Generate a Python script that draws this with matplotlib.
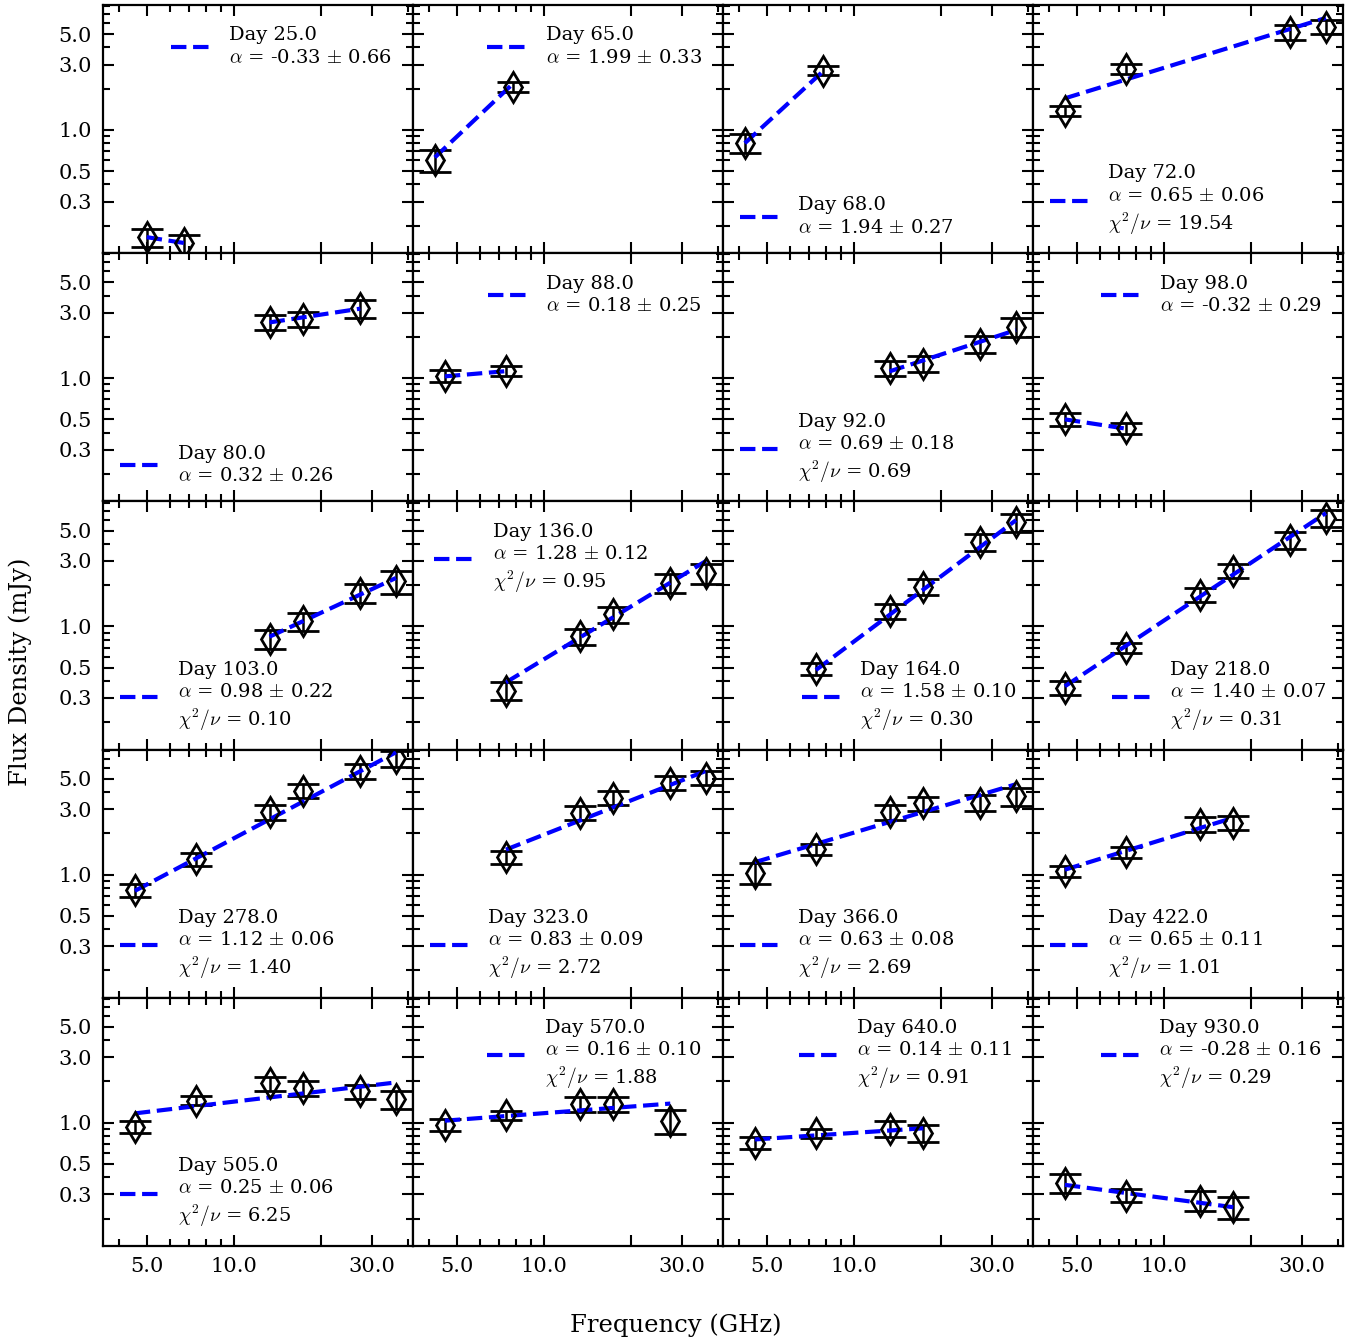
import numpy as np
import matplotlib
matplotlib.use("Agg")
import matplotlib.pyplot as plt
from matplotlib.ticker import FixedLocator, FuncFormatter, LogLocator, NullFormatter

plt.rcParams["font.family"] = ["DejaVu Serif"]
plt.rcParams["mathtext.fontset"] = "cm"

# Epochs (days) and the radio spectrum measured at each one
days = [25, 65, 68, 72, 80, 88, 92, 98, 103, 136,
        164, 218, 278, 323, 366, 422, 505, 570, 640, 930]

freqs = [
    [5.0, 6.75],
    [4.2, 7.8],
    [4.2, 7.8],
    [4.55, 7.4, 27.4, 36.4],
    [13.3, 17.4, 27.4],
    [4.55, 7.4],
    [13.3, 17.4, 27.4, 36.4],
    [4.55, 7.4],
    [13.3, 17.4, 27.4, 36.4],
    [7.4, 13.3, 17.4, 27.4, 36.4],
    [7.4, 13.3, 17.4, 27.4, 36.4],
    [4.55, 7.4, 13.3, 17.4, 27.4, 36.4],
    [4.55, 7.4, 13.3, 17.4, 27.4, 36.4],
    [7.4, 13.3, 17.4, 27.4, 36.4],
    [4.55, 7.4, 13.3, 17.4, 27.4, 36.4],
    [4.55, 7.4, 13.3, 17.4],
    [4.55, 7.4, 13.3, 17.4, 27.4, 36.4],
    [4.55, 7.4, 13.3, 17.4, 27.4],
    [4.55, 7.4, 13.3, 17.4],
    [4.55, 7.4, 13.3, 17.4],
]

fluxes = [
    [0.165, 0.149],
    [0.604, 2.07],
    [0.808, 2.71],
    [1.383, 2.79, 5.16, 5.67],
    [2.58, 2.70, 3.23],
    [1.04, 1.13],
    [1.18, 1.27, 1.77, 2.38],
    [0.504, 0.431],
    [0.809, 1.09, 1.75, 2.13],
    [0.34, 0.847, 1.22, 2.07, 2.45],
    [0.489, 1.30, 1.95, 4.15, 5.75],
    [0.355, 0.696, 1.70, 2.55, 4.25, 6.18],
    [0.768, 1.29, 2.88, 4.07, 5.69, 7.05],
    [1.34, 2.83, 3.64, 4.68, 5.09],
    [1.03, 1.53, 2.86, 3.31, 3.35, 3.74],
    [1.057, 1.46, 2.34, 2.38],
    [0.937, 1.45, 1.94, 1.79, 1.69, 1.48],
    [0.969, 1.13, 1.37, 1.37, 1.03],
    [0.712, 0.838, 0.902, 0.838],
    [0.366, 0.294, 0.270, 0.244],
]

flux_errs = [
    [0.024, 0.022],
    [0.11, 0.18],
    [0.13, 0.20],
    [0.12, 0.22, 0.63, 0.67],
    [0.33, 0.35, 0.47],
    [0.10, 0.10],
    [0.15, 0.17, 0.25, 0.37],
    [0.055, 0.037],
    [0.125, 0.165, 0.27, 0.40],
    [0.05, 0.117, 0.17, 0.33, 0.41],
    [0.048, 0.16, 0.25, 0.60, 0.87],
    [0.042, 0.06, 0.20, 0.30, 0.60, 0.90],
    [0.08, 0.14, 0.36, 0.48, 0.70, 0.95],
    [0.15, 0.32, 0.44, 0.52, 0.60],
    [0.18, 0.15, 0.34, 0.40, 0.46, 0.56],
    [0.105, 0.13, 0.28, 0.28],
    [0.09, 0.11, 0.23, 0.21, 0.21, 0.22],
    [0.10, 0.09, 0.18, 0.18, 0.20],
    [0.07, 0.063, 0.12, 0.118],
    [0.058, 0.032, 0.045, 0.044],
]

# Power-law fits: spectral index, its uncertainty, reduced chi-square
alphas = [-0.33, 1.99, 1.94, 0.65, 0.32, 0.18, 0.69, -0.32, 0.98, 1.28,
          1.58, 1.40, 1.12, 0.83, 0.63, 0.65, 0.25, 0.16, 0.14, -0.28]
alpha_errs = [0.66, 0.33, 0.27, 0.06, 0.26, 0.25, 0.18, 0.29, 0.22, 0.12,
              0.10, 0.07, 0.06, 0.09, 0.08, 0.11, 0.06, 0.10, 0.11, 0.16]
chi2_red = [None, None, None, 19.54, None, None, 0.69, None, 0.10, 0.95,
            0.30, 0.31, 1.40, 2.72, 2.69, 1.01, 6.25, 1.88, 0.91, 0.29]
# Fitted flux density at the lowest observed frequency of each epoch
fit_start = [0.165, 0.63, 0.80, 1.70, 2.55, 1.03, 1.12, 0.50, 0.84, 0.39,
             0.48, 0.365, 0.76, 1.52, 1.23, 1.085, 1.17, 1.035, 0.755, 0.352]

legend_locs = ["upper right", "upper right", "lower left", "lower left",
               "lower left", "upper right", "lower left", "upper right",
               "lower left", "upper left", "lower right", "lower right",
               "lower left", "lower left", "lower left", "lower left",
               "lower left", "upper right", "upper right", "upper right"]

fig, axes = plt.subplots(5, 4, figsize=(13.57, 13.40), dpi=100,
                         sharex=True, sharey=True)
fig.subplots_adjust(left=103 / 1357, right=1343 / 1357,
                    bottom=1 - 1246 / 1340, top=1 - 5 / 1340,
                    wspace=0, hspace=0)

for i, ax in enumerate(axes.flat):
    nu = np.array(freqs[i])
    s = np.array(fluxes[i])
    ds = np.array(flux_errs[i])
    ax.errorbar(nu, s, yerr=ds, fmt="d", ms=15, mfc="none", mec="black",
                mew=2.0, ecolor="black", elinewidth=1.8, capsize=11.5,
                capthick=2.4, color="black")

    nu_fit = np.array([nu.min(), nu.max()])
    s_fit = fit_start[i] * (nu_fit / nu_fit[0]) ** alphas[i]
    label = f"Day {days[i]:.1f}\n$\\alpha$ = {alphas[i]:.2f} $\\pm$ {alpha_errs[i]:.2f}"
    if chi2_red[i] is not None:
        label += f"\n$\\chi^2/\\nu$ = {chi2_red[i]:.2f}"
    ax.plot(nu_fit, s_fit, "--", color="blue", lw=3, label=label)
    pad = 0.7 if legend_locs[i].startswith("upper") else 0.45
    leg = ax.legend(loc=legend_locs[i], frameon=False, fontsize=14,
                    handlelength=2.2, borderaxespad=pad)
    for t in leg.get_texts():
        t.set_linespacing(1.3)

ax0 = axes[0, 0]
ax0.set_xscale("log")
ax0.set_yscale("log")
ax0.set_xlim(3.53, 41.7)
ax0.set_ylim(0.126, 8.16)

ax0.xaxis.set_major_locator(FixedLocator([5, 10, 20, 30]))
ax0.xaxis.set_major_formatter(
    FuncFormatter(lambda v, p: "" if abs(v - 20) < 1e-6 else f"{v:.1f}"))
ax0.xaxis.set_minor_locator(LogLocator(base=10, subs=np.arange(2, 10)))
ax0.xaxis.set_minor_formatter(NullFormatter())

ax0.yaxis.set_major_locator(FixedLocator([0.3, 0.5, 1.0, 3.0, 5.0]))
ax0.yaxis.set_major_formatter(FuncFormatter(lambda v, p: f"{v:.1f}"))
ax0.yaxis.set_minor_locator(LogLocator(base=10, subs=np.arange(2, 10)))
ax0.yaxis.set_minor_formatter(NullFormatter())

for ax in axes.flat:
    ax.tick_params(which="both", direction="in", top=True, right=True,
                   labelsize=15, width=1.5)
    ax.tick_params(which="major", length=8, pad=8)
    ax.tick_params(which="minor", length=5)
    for sp in ax.spines.values():
        sp.set_linewidth(1.6)

fig.text(0.498, 1 - 1325 / 1340, "Frequency (GHz)", ha="center",
         va="center", fontsize=17.5)
fig.text(0.015, 0.4985, "Flux Density (mJy)", ha="center", va="center",
         rotation=90, fontsize=17.5)

fig.savefig("out.png", dpi=100)
